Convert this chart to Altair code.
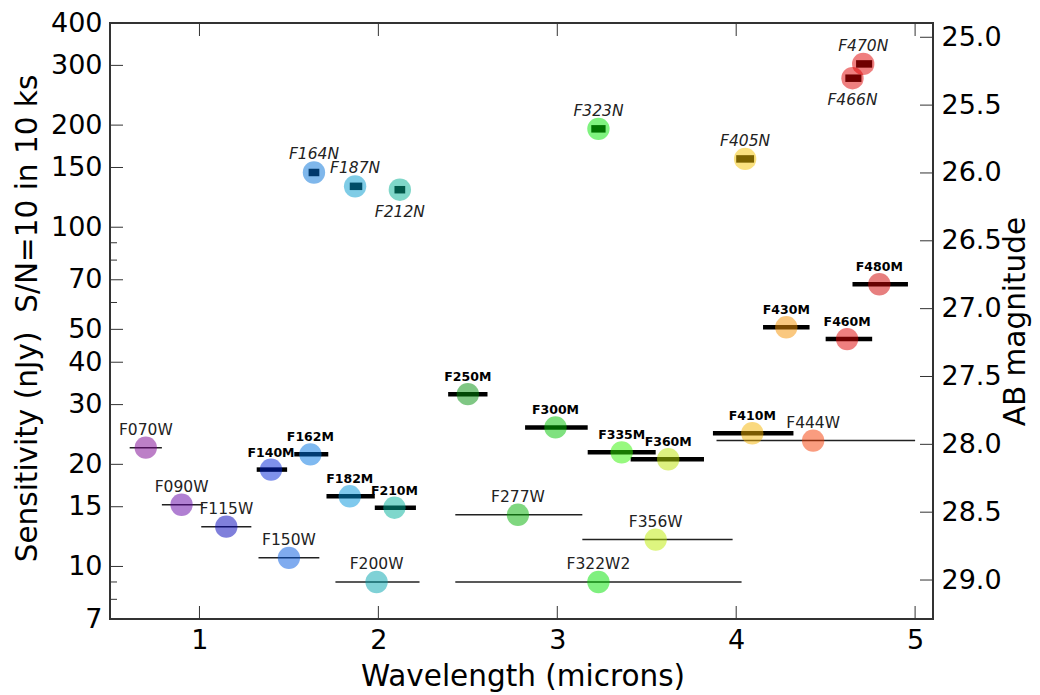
import altair as alt
import pandas as pd
import numpy as np

# ---------------- data ----------------
filters = ["F070W", "F090W", "F115W", "F150W", "F200W", "F277W", "F322W2", "F356W", "F444W",
           "F140M", "F162M", "F182M", "F210M", "F250M", "F300M", "F335M", "F360M", "F410M",
           "F430M", "F460M", "F480M",
           "F164N", "F187N", "F212N", "F323N", "F405N", "F466N", "F470N"]
wavelength = [0.70, 0.90, 1.15, 1.50, 1.99, 2.78, 3.23, 3.55, 4.43,
              1.40, 1.62, 1.84, 2.09, 2.50, 2.99, 3.36, 3.62, 4.09,
              4.28, 4.62, 4.80,
              1.64, 1.87, 2.12, 3.23, 4.05, 4.65, 4.71]
sensitivity = [22.4, 15.2, 13.1, 10.6, 9.0, 14.2, 9.0, 12.0, 23.5,
               19.3, 21.4, 16.1, 14.9, 32.2, 25.7, 21.7, 20.7, 24.7,
               50.7, 46.8, 67.9,
               145, 132, 129, 195, 159, 275, 303]
band_lo = [0.61, 0.79, 1.01, 1.33, 1.76, 2.43, 2.43, 3.14, 3.89,
           1.32, 1.53, 1.71, 1.98, 2.39, 2.82, 3.17, 3.41, 3.87,
           4.15, 4.50, 4.65,
           1.61, 1.84, 2.09, 3.19, 4.00, 4.61, 4.67]
band_hi = [0.79, 1.02, 1.29, 1.67, 2.23, 3.14, 4.03, 3.98, 5.00,
           1.49, 1.72, 1.98, 2.21, 2.61, 3.17, 3.55, 3.82, 4.32,
           4.41, 4.76, 4.96,
           1.67, 1.91, 2.15, 3.27, 4.10, 4.70, 4.76]
filter_colors = ["#7a0090", "#6200a6", "#0000b8", "#0058e0", "#00a4ae", "#00b000", "#00e200", "#bcec00", "#f53a00",
                 "#0024d8", "#0074e2", "#0094dc", "#00b09a", "#00900a", "#00c400", "#30f400", "#bce200", "#f5b400",
                 "#f59200", "#e00000", "#d00000",
                 "#0070d8", "#009ace", "#00b094", "#00e800", "#f5c400", "#e00000", "#e00000"]
labels_below = ["F212N", "F466N"]

y_major = [7, 10, 15, 20, 30, 40, 50, 70, 100, 150, 200, 300, 400]
y_minor = [8, 9, 60, 80, 90]
x_ticks = [1, 2, 3, 4, 5]
mag_ticks = [25.0, 25.5, 26.0, 26.5, 27.0, 27.5, 28.0, 28.5, 29.0]

# ---------------- layout ----------------
W, H = 823, 596
FLUX_MIN, FLUX_MAX = 7, 400
FONT = "DejaVu Sans"
TICK_FS = 27
TITLE_FS = 29.5

def kind_of(name):
    if name.endswith("N"):
        return "N"
    if name.endswith("M"):
        return "M"
    return "W"

df = pd.DataFrame({
    "filter": filters,
    "wl": wavelength,
    "sens": sensitivity,
    "lo": band_lo,
    "hi": band_hi,
})
df["kind"] = [kind_of(f) for f in filters]
df["below"] = [f in labels_below for f in filters]

xscale = alt.Scale(domain=[0.5, 5.1], zero=False, nice=False)
yscale = alt.Scale(type="log", domain=[FLUX_MIN, FLUX_MAX], nice=False)

xaxis = alt.Axis(values=x_ticks, format="d", title="Wavelength (microns)",
                 labelFontSize=TICK_FS, titleFontSize=TITLE_FS, labelFont=FONT, titleFont=FONT,
                 labelColor="black", titleColor="black", titleFontWeight="normal",
                 ticks=False, tickSize=0, domain=False, grid=False, labelPadding=8,
                 labelFlush=False, labelOverlap=False,
                 titleX=W / 2 + 1, titleY=66, titleBaseline="alphabetic", titleAlign="center")
yaxis = alt.Axis(values=y_major, format="d", title="Sensitivity (nJy) \u00a0S/N=10 in 10 ks",
                 labelFontSize=TICK_FS, titleFontSize=TITLE_FS, labelFont=FONT, titleFont=FONT,
                 labelColor="black", titleColor="black", titleFontWeight="normal",
                 ticks=False, tickSize=0, domain=False, grid=False, labelPadding=8,
                 labelOverlap=False, labelFlush=False,
                 titleX=-74, titleY=H / 2 - 3, titleAngle=270, titleBaseline="alphabetic",
                 titleAlign="center")

X = lambda f: alt.X(f, scale=xscale, axis=xaxis)
Y = lambda f: alt.Y(f, scale=yscale, axis=yaxis)

base = alt.Chart(df)

wide_rule = base.transform_filter("datum.kind == 'W'").mark_rule(
    strokeWidth=1.5, color="#222222").encode(x=X("lo:Q"), x2="hi:Q", y=Y("sens:Q"))
med_rule = base.transform_filter("datum.kind == 'M'").mark_rule(
    strokeWidth=4.5, color="black").encode(x=X("lo:Q"), x2="hi:Q", y=Y("sens:Q"))
nar_rule = base.transform_filter("datum.kind == 'N'").mark_rule(
    strokeWidth=7.5, color="black").encode(x=X("lo:Q"), x2="hi:Q", y=Y("sens:Q"))

circles = base.mark_circle(size=500, opacity=0.5, strokeWidth=0).encode(
    x=X("wl:Q"), y=Y("sens:Q"),
    color=alt.Color("filter:N", scale=alt.Scale(domain=filters, range=filter_colors), legend=None))

wide_text = base.transform_filter("datum.kind == 'W'").mark_text(
    font=FONT, fontSize=15.5, color="#222222", dy=-13, baseline="alphabetic", align="center").encode(
    x=X("wl:Q"), y=Y("sens:Q"), text="filter:N")
med_text = base.transform_filter("datum.kind == 'M'").mark_text(
    font=FONT, fontSize=12.5, fontWeight="bold", color="black", dy=-13, baseline="alphabetic",
    align="center").encode(x=X("wl:Q"), y=Y("sens:Q"), text="filter:N")
nar_text_up = base.transform_filter("datum.kind == 'N' && !datum.below").mark_text(
    font=FONT, fontSize=15.5, fontStyle="italic", color="#222222", dy=-13, baseline="alphabetic",
    align="center").encode(x=X("wl:Q"), y=Y("sens:Q"), text="filter:N")
nar_text_dn = base.transform_filter("datum.kind == 'N' && datum.below").mark_text(
    font=FONT, fontSize=15.5, fontStyle="italic", color="#222222", dy=27, baseline="alphabetic",
    align="center").encode(x=X("wl:Q"), y=Y("sens:Q"), text="filter:N")

# inward tick marks, placed through the scales
ymaj = alt.Chart(pd.DataFrame({"v": y_major})).mark_rule(color="#333333", strokeWidth=1).encode(
    y=Y("v:Q"), x=alt.value(0), x2=alt.value(13))
ymin = alt.Chart(pd.DataFrame({"v": y_minor})).mark_rule(color="#333333", strokeWidth=1).encode(
    y=Y("v:Q"), x=alt.value(0), x2=alt.value(7))
xbot = alt.Chart(pd.DataFrame({"v": x_ticks})).mark_rule(color="#333333", strokeWidth=1).encode(
    x=X("v:Q"), y=alt.value(H - 13), y2=alt.value(H))
xtop = alt.Chart(pd.DataFrame({"v": x_ticks})).mark_rule(color="#333333", strokeWidth=1).encode(
    x=X("v:Q"), y=alt.value(0), y2=alt.value(13))

main = alt.layer(wide_rule, med_rule, nar_rule, circles, wide_text, med_text,
                 nar_text_up, nar_text_dn, ymaj, ymin, xbot, xtop)

# right axis: AB magnitude = 31.4 - 2.5 log10(nJy)
mag_top = 31.4 - 2.5 * np.log10(FLUX_MAX)
mag_bot = 31.4 - 2.5 * np.log10(FLUX_MIN)
mag_axis = alt.Axis(orient="right", values=mag_ticks, format=".1f", title="AB magnitude",
                    labelFontSize=TICK_FS, titleFontSize=TITLE_FS, labelFont=FONT, titleFont=FONT,
                    labelColor="black", titleColor="black", titleFontWeight="normal",
                    ticks=False, tickSize=0, domain=False, grid=False, labelPadding=8,
                    labelOverlap=False, labelFlush=False,
                    titleX=91, titleY=H / 2, titleAngle=270, titleBaseline="alphabetic",
                    titleAlign="center")
mag = alt.Chart(pd.DataFrame({"m": mag_ticks})).mark_rule(color="#333333", strokeWidth=1).encode(
    y=alt.Y("m:Q", scale=alt.Scale(domain=[float(mag_top), float(mag_bot)], reverse=True,
                                   zero=False, nice=False), axis=mag_axis),
    x=alt.value(W - 13), x2=alt.value(W))

chart = alt.layer(main, mag).resolve_scale(y="independent").properties(
    width=W, height=H,
    autosize=alt.AutoSizeParams(type="none"),
    padding={"left": 102, "top": 15, "right": 99, "bottom": 76},
    background="white",
).configure_view(stroke="#333333", strokeWidth=2)

chart.save("out.html", embed_options={"renderer": "svg", "actions": False})
